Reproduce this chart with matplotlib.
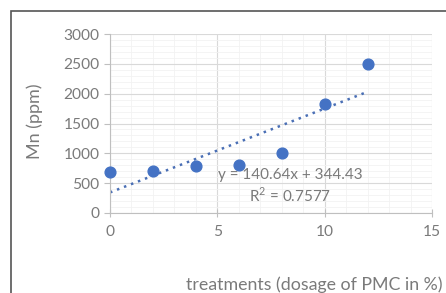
import matplotlib
matplotlib.use("Agg")
import matplotlib.pyplot as plt
import numpy as np
from matplotlib.patches import Rectangle

x_vals = [0, 2, 4, 6, 8, 10, 12]
mn_vals = [690, 700, 790, 810, 1010, 1830, 2490]
slope = 140.64
intercept = 344.43
eq_text = "y = 140.64x + 344.43"
r2_text = "R$^2$ = 0.7577"
x_ticks = [0, 5, 10, 15]
y_ticks = [0, 500, 1000, 1500, 2000, 2500, 3000]

plt.rcParams["font.family"] = ["Lato", "DejaVu Sans"]
plt.rcParams["mathtext.fontset"] = "custom"
plt.rcParams["mathtext.rm"] = "Lato"

gray = "#7a7a7a"
fig = plt.figure(figsize=(4.46, 2.93), dpi=100)
fig.patches.append(Rectangle((11/446, -0.1), 1.2, 1 - 11/293 + 0.1, transform=fig.transFigure,
                             fill=False, edgecolor="#555555", linewidth=1.2))
ax = fig.add_axes([110/446, 1 - 213/293, (432-110)/446, (213-34)/293])
ax.set_xlim(0, 15)
ax.set_ylim(0, 3000)
ax.set_xticks(x_ticks)
ax.set_yticks(y_ticks)
ax.set_xticks(np.arange(0, 15.01, 1), minor=True)
ax.set_yticks(np.arange(0, 3000.1, 100), minor=True)
ax.grid(which="major", color="#d9d9d9", linewidth=0.8)
ax.grid(which="minor", color="#f2f2f2", linewidth=0.6)
ax.set_axisbelow(True)
for s in ["top", "right"]:
    ax.spines[s].set_visible(False)
for s in ["left", "bottom"]:
    ax.spines[s].set_color("#bfbfbf")
    ax.spines[s].set_linewidth(0.8)
ax.tick_params(which="major", colors="#bfbfbf", labelcolor=gray, labelsize=11.2, length=4, width=0.8)
ax.tick_params(axis="x", direction="inout", length=6, pad=6)
ax.tick_params(which="minor", length=0)

ax.scatter(x_vals, mn_vals, s=60, color="#4472C4", zorder=3, clip_on=False)
xt = np.array([min(x_vals), max(x_vals)])
ax.plot(xt, slope * xt + intercept, linestyle=(0, (1, 2)), color="#4a6fb5", linewidth=1.8, zorder=2)

fig.text(290/446, 1 - 175/293, eq_text, fontsize=11, color=gray, ha="center", va="center")
fig.text(290/446, 1 - 195/293, r2_text, fontsize=11, color=gray, ha="center", va="center")

ax.set_ylabel("Mn (ppm)", fontsize=13, color=gray)
ax.yaxis.set_label_coords(43/446, 1 - 121/293, transform=fig.transFigure)
fig.text(442/446, 1 - 285/293, "treatments (dosage of PMC in %)", fontsize=12.8, color=gray,
         ha="right", va="center")

fig.savefig("out.png", dpi=100)
